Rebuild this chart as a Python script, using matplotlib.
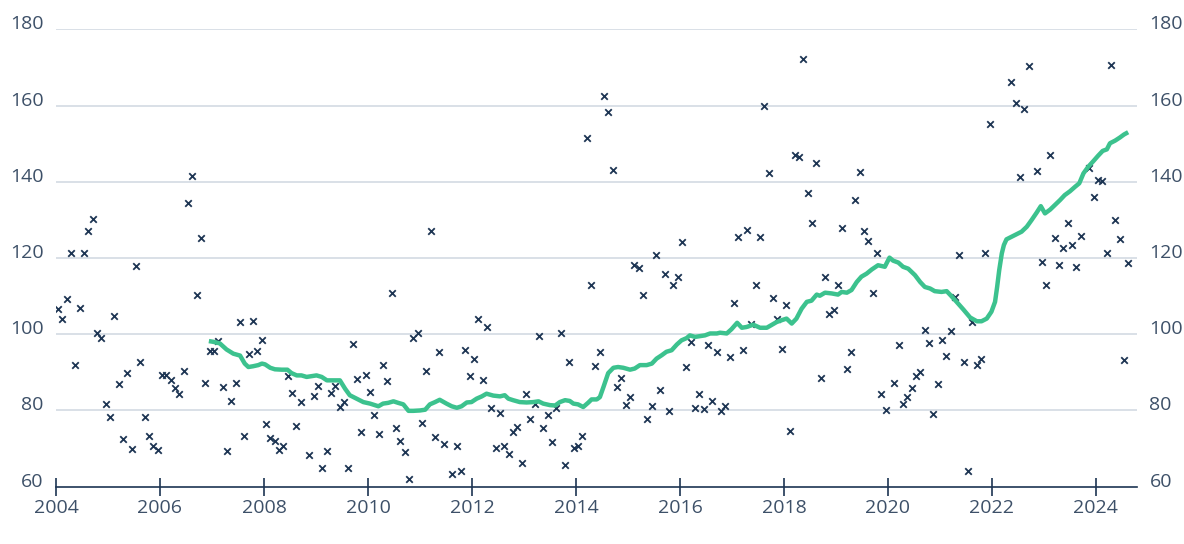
import numpy as np
import matplotlib
matplotlib.use("Agg")
import matplotlib.pyplot as plt
from matplotlib.ticker import FixedLocator

nan = np.nan
# Monthly observations, Jan 2004 .. Aug 2024 (nan = not visible in reference)
monthly_values = [
    106.6, 104.1, 109.2, 121.2, 91.9, 106.9, 121.2, 127.2, 130.3, 100.4, 99.0, 81.8,   # 2004
    78.3, 104.8, 87.0, 72.6, 89.9, 69.8, 118.0, 92.6, 78.3, 73.3, 70.6, 69.5,         # 2005
    89.2, 89.2, 87.9, 85.9, 84.2, 90.3, 134.4, 141.6, 110.2, 125.2, 87.2, 95.6,       # 2006
    95.6, 98.2, 86.2, 69.3, 82.4, 87.2, 103.2, 73.3, 94.8, 103.5, 95.6, 98.4,         # 2007
    76.4, 72.8, 71.9, 69.5, 70.7, 89.0, 84.6, 75.8, 82.1, nan, 68.2, 83.9,            # 2008
    86.3, 64.8, 69.3, 84.6, 86.5, 80.9, 82.1, 64.8, 97.5, 88.2, 74.4, 89.2,           # 2009
    84.9, 78.7, 73.7, 91.9, 87.7, 110.7, 75.5, 71.9, 69.0, 62.1, 98.9, 100.4,         # 2010
    76.7, 90.3, 127.0, 73.0, 95.4, 71.3, nan, 63.4, 70.6, 64.1, 95.8, 89.0,           # 2011
    93.6, 104.1, 87.9, 101.8, 80.7, 70.2, 79.4, 70.8, 68.5, 74.4, 75.7, 66.2,         # 2012
    84.2, 77.8, 81.6, 99.5, 75.4, 78.7, 71.6, 80.7, 100.4, 65.6, 92.6, 70.2,          # 2013
    70.6, 73.3, 151.6, 113.0, 91.6, 95.4, 162.5, 158.4, 143.2, 86.2, 88.5, 81.4,      # 2014
    83.5, 118.1, 117.5, 110.2, 77.8, 81.1, 120.8, 85.5, 115.8, 79.8, 113.0, 115.1,    # 2015
    124.2, 91.3, 98.0, 80.7, 84.4, 80.5, 97.1, 82.5, 95.4, 79.8, 81.2, 94.0,          # 2016
    108.3, 125.6, 95.8, 127.3, 102.6, 113.0, 125.6, 159.9, 142.2, 109.4, 104.1, 96.1, # 2017
    107.6, 74.6, 147.0, 146.4, 172.1, 137.1, 129.1, 144.9, 88.6, 115.1, 105.3, 106.3, # 2018
    113.0, 127.9, 91.0, 95.4, 135.1, 142.5, 127.0, 124.5, 110.9, 121.2, 84.4, 80.0,   # 2019
    nan, 87.2, 97.1, 81.8, 83.5, 85.9, 89.0, 90.1, 101.1, 97.7, 79.0, 86.9,           # 2020
    98.4, 94.3, 100.8, 109.8, 120.8, 92.6, 64.1, 103.2, 92.0, 93.6, 121.4, 155.1,     # 2021
    nan, nan, nan, nan, 166.3, 160.6, 141.2, 159.2, 170.4, nan, 142.9, 119.0,         # 2022
    113.0, 147.0, 125.3, 118.1, 122.5, 129.3, 123.5, 117.7, 125.9, nan, 143.7, 136.1, # 2023
    140.4, 140.2, 121.2, 170.6, 130.0, 124.9, 93.3, 118.7,                            # 2024
]
start_year = 2004

# Smoothed (trend) line, read as (decimal year, value)
trend_years = [
    2006.94, 2007.03, 2007.15, 2007.28, 2007.41, 2007.54, 2007.63, 2007.70, 2007.79, 2007.89,
    2007.96, 2008.02, 2008.12, 2008.21, 2008.34, 2008.45, 2008.53, 2008.63, 2008.72, 2008.82,
    2008.92, 2009.01, 2009.11, 2009.21, 2009.33, 2009.46, 2009.56, 2009.65, 2009.78, 2009.91,
    2010.04, 2010.20, 2010.29, 2010.39, 2010.49, 2010.58, 2010.68, 2010.78, 2010.87, 2011.00,
    2011.10, 2011.19, 2011.29, 2011.38, 2011.51, 2011.61, 2011.71, 2011.80, 2011.90, 2011.99,
    2012.09, 2012.19, 2012.28, 2012.41, 2012.54, 2012.63, 2012.70, 2012.79, 2012.92, 2013.05,
    2013.18, 2013.28, 2013.37, 2013.50, 2013.60, 2013.69, 2013.79, 2013.88, 2013.95, 2014.04,
    2014.14, 2014.24, 2014.30, 2014.40, 2014.46, 2014.53, 2014.62, 2014.72, 2014.81, 2014.91,
    2015.04, 2015.13, 2015.23, 2015.36, 2015.46, 2015.55, 2015.65, 2015.74, 2015.84, 2015.94,
    2016.03, 2016.13, 2016.19, 2016.29, 2016.38, 2016.48, 2016.58, 2016.71, 2016.77, 2016.90,
    2016.99, 2017.10, 2017.19, 2017.28, 2017.41, 2017.54, 2017.67, 2017.76, 2017.86, 2017.96,
    2018.05, 2018.15, 2018.24, 2018.34, 2018.44, 2018.53, 2018.63, 2018.69, 2018.79, 2018.92,
    2019.04, 2019.11, 2019.21, 2019.30, 2019.40, 2019.49, 2019.59, 2019.69, 2019.81, 2019.94,
    2020.03, 2020.10, 2020.20, 2020.29, 2020.39, 2020.52, 2020.62, 2020.71, 2020.81, 2020.90,
    2021.03, 2021.13, 2021.22, 2021.32, 2021.45, 2021.58, 2021.71, 2021.80, 2021.90, 2021.99,
    2022.06, 2022.10, 2022.14, 2022.19, 2022.23, 2022.28, 2022.38, 2022.47, 2022.57, 2022.67,
    2022.76, 2022.86, 2022.94, 2023.02, 2023.12, 2023.21, 2023.31, 2023.40, 2023.50, 2023.60,
    2023.68, 2023.76, 2023.85, 2023.95, 2024.04, 2024.13, 2024.21, 2024.27, 2024.37, 2024.46,
    2024.54, 2024.62,
]
trend_values = [
    98.2, 98.0, 97.6, 96.0, 94.9, 94.4, 92.3, 91.4, 91.6, 91.9,
    92.3, 92.1, 91.2, 90.8, 90.7, 90.7, 89.8, 89.2, 89.2, 88.8,
    89.0, 89.2, 88.8, 87.9, 87.9, 87.9, 85.7, 84.0, 83.1, 82.2,
    81.8, 81.1, 81.8, 82.0, 82.4, 82.0, 81.6, 79.9, 79.9, 80.0,
    80.2, 81.6, 82.2, 82.8, 81.8, 81.1, 80.7, 81.1, 82.1, 82.2,
    83.1, 83.7, 84.4, 83.9, 83.7, 84.0, 83.1, 82.7, 82.2, 82.1,
    82.2, 82.4, 81.8, 81.4, 81.3, 82.2, 82.7, 82.5, 81.8, 81.6,
    80.9, 82.1, 82.9, 82.9, 83.5, 86.2, 89.8, 91.2, 91.4, 91.2,
    90.7, 91.0, 91.9, 91.9, 92.3, 93.6, 94.5, 95.4, 95.8, 97.3,
    98.4, 99.0, 99.7, 99.3, 99.5, 99.7, 100.2, 100.2, 100.4, 100.2,
    101.3, 103.0, 101.7, 101.9, 102.5, 101.7, 101.7, 102.4, 103.2, 103.7,
    104.1, 102.8, 104.1, 106.7, 108.5, 108.8, 110.4, 110.1, 110.9, 110.7,
    110.4, 111.1, 110.9, 111.6, 113.7, 115.1, 115.9, 117.0, 118.1, 117.7,
    120.1, 119.3, 118.8, 117.7, 117.2, 115.5, 113.7, 112.4, 112.0, 111.3,
    111.1, 111.3, 110.0, 108.5, 106.5, 104.4, 103.4, 103.4, 104.1, 105.9,
    108.5, 112.4, 116.8, 121.2, 123.4, 124.9, 125.6, 126.2, 126.9, 128.2,
    129.9, 131.9, 133.6, 131.7, 132.7, 133.9, 135.2, 136.5, 137.5, 138.7,
    139.6, 142.2, 143.9, 145.4, 146.8, 148.1, 148.5, 150.1, 150.8, 151.6,
    152.4, 153.0,
]

y_ticks = [60, 80, 100, 120, 140, 160, 180]
x_ticks = [2004, 2006, 2008, 2010, 2012, 2014, 2016, 2018, 2020, 2022, 2024]

NAVY = "#1d3553"
TEXT = "#3d5068"
GREEN = "#3cc28e"
GRID = "#d3dae3"

plt.rcParams['font.family'] = ['Open Sans', 'DejaVu Sans']

fig = plt.figure(figsize=(11.84, 5.44), dpi=100)
ax = fig.add_axes([56/1184, 1-486.7/544, (1137-56)/1184, (486.7-29.3)/544])

vals = np.array(monthly_values, dtype=float)
months = np.arange(len(vals))
xdates = start_year + (months + 0.5) / 12.0
ax.scatter(xdates, vals, marker='x', s=22, linewidths=1.3, color=NAVY, zorder=3)
ax.plot(trend_years, trend_values, color=GREEN, lw=3.2, solid_capstyle='butt',
        solid_joinstyle='round', zorder=4)

ax.set_xlim(2004, 2024.79)
ax.set_ylim(60, 180)

ax.yaxis.set_major_locator(FixedLocator(y_ticks))
ax.xaxis.set_major_locator(FixedLocator(x_ticks))
ax.set_xticklabels([str(t) for t in x_ticks])
ax.set_yticklabels([str(t) for t in y_ticks])

for s in ['top', 'left', 'right']:
    ax.spines[s].set_visible(False)
ax.spines['bottom'].set_color(NAVY)
ax.spines['bottom'].set_linewidth(1.2)
ax.spines['bottom'].set_zorder(5)

for yv in y_ticks[1:]:
    ax.axhline(yv, color=GRID, lw=1.2, zorder=1)

ax.tick_params(axis='y', length=0, labelleft=True, labelright=True, pad=9,
               labelsize=14, labelcolor=TEXT)
ax.tick_params(axis='x', direction='inout', length=13, width=1.2, color=NAVY,
               labelsize=14, labelcolor=TEXT, pad=2)
for lab in ax.get_yticklabels(which='both'):
    lab.set_va('baseline')
for lab in ax.yaxis.get_majorticklabels():
    lab.set_va('baseline')
for t in ax.yaxis.get_major_ticks():
    t.label1.set_va('baseline')
    t.label2.set_va('baseline')

fig.savefig('out.png', dpi=100)
